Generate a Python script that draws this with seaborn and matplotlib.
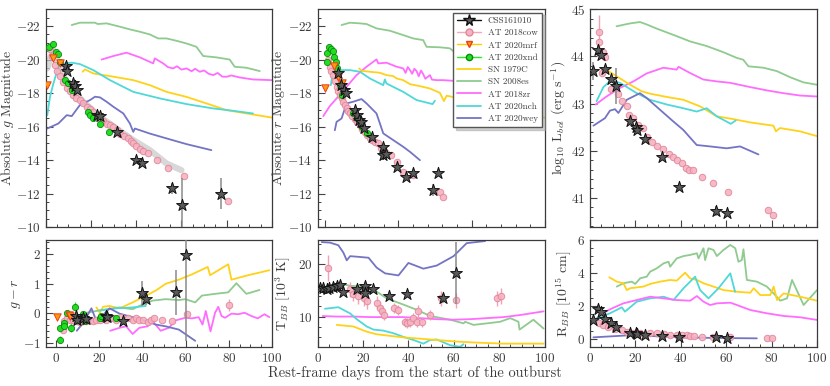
import numpy as np
import matplotlib
matplotlib.use('Agg')
import matplotlib.pyplot as plt
from matplotlib.lines import Line2D
from matplotlib.ticker import MultipleLocator, AutoMinorLocator
import seaborn as sns

sns.set_theme(style='ticks')
plt.rcParams['font.family'] = 'serif'
plt.rcParams['font.serif'] = ['cmr10', 'DejaVu Serif']
plt.rcParams['mathtext.fontset'] = 'cm'
plt.rcParams['axes.formatter.use_mathtext'] = True

# ---------------- data ----------------
# CSS161010
css_g_day = [9.0, 9.6, 12.0, 12.8, 14.0, 22.8, 23.8, 31.3, 39.9, 42.4, 55.6, 60.1, 77.6]
css_g_mag = [-19.6, -19.3, -18.6, -18.4, -18.2, -16.7, -16.6, -15.7, -14.0, -13.8, -12.3, -11.3, -12.0]
css_g_err = [0.1, 0.1, 0.1, 0.1, 0.1, 0.1, 0.1, 0.1, 0.1, 0.1, 0.35, 1.6, 0.95]
css_r_day = [9.1, 10.7, 13.0, 14.3, 20.5, 21.6, 23.4, 24.5, 26.6, 31.8, 39.8, 39.8, 42.0, 49.5, 55.2, 60.2, 73.9, 76.8]
css_r_mag = [-19.2, -18.5, -18.2, -18.0, -17.0, -16.7, -16.4, -16.25, -15.9, -15.4, -14.8, -14.3, -14.35, -13.6, -13.0, -13.2, -12.2, -13.2]
css_r_err = [0.1, 0.1, 0.1, 0.1, 0.1, 0.1, 0.1, 0.1, 0.1, 0.1, 0.1, 0.3, 0.1, 0.15, 0.15, 0.15, 0.35, 0.15]
css_L_day = [1.5, 3.7, 4.7, 6.6, 9.1, 11.5, 17.6, 20.3, 20.9, 24.2, 31.6, 39.4, 55.5, 60.2]
css_L_val = [43.69, 44.13, 44.02, 43.74, 43.52, 43.38, 42.62, 42.51, 42.44, 42.24, 41.86, 41.23, 40.72, 40.68]
css_L_err = [0.2, 0.12, 0.08, 0.05, 0.05, 0.38, 0.05, 0.08, 0.08, 0.05, 0.05, 0.05, 0.1, 0.05]
css_gr_day = [9.2, 9.8, 12.5, 13.7, 22.9, 23.5, 31.1, 39.7, 41.5, 55.3, 60.2]
css_gr_val = [-0.09, -0.24, -0.17, -0.2, -0.09, -0.13, -0.26, 0.68, 0.48, 0.71, 1.98]
css_gr_err = [0.15, 0.15, 0.12, 0.12, 0.12, 0.12, 0.15, 0.43, 0.2, 0.75, 2.9]
css_T_day = [1.0, 2.5, 4.0, 5.1, 6.9, 8.4, 9.9, 11.3, 17.5, 20.9, 20.9, 24.6, 31.6, 39.3, 55.4, 61.0]
css_T_val = [15.5, 15.5, 15.3, 15.5, 15.7, 15.8, 16.1, 14.8, 15.3, 15.8, 14.6, 15.2, 13.9, 14.4, 13.5, 18.4]
css_T_err = [0.5, 0.5, 0.5, 0.5, 0.5, 0.5, 0.5, 0.5, 0.5, 0.5, 0.5, 0.5, 0.5, 0.5, 0.8, 6.0]
css_R_day = [1.2, 3.7, 4.7, 6.6, 9.1, 11.5, 17.6, 20.3, 20.9, 24.3, 31.6, 39.4, 55.6, 60.3]
css_R_val = [1.15, 1.79, 1.65, 1.19, 0.94, 0.7, 0.38, 0.34, 0.3, 0.24, 0.18, 0.1, 0.1, 0.04]

# AT 2018cow
cow_g_day = [2.0, 3.0, 4.1, 5.2, 6.3, 7.8, 9.3, 10.8, 12.2, 13.6, 15.1, 16.6, 18.1, 19.5, 21.0, 22.5, 24.0,
             25.5, 26.9, 28.4, 29.9, 31.3, 32.8, 34.6, 36.5, 37.6, 38.7, 40.1, 41.6, 43.1, 45.3, 49.3, 54.1, 61.0, 80.7]
cow_g_mag = [-20.6, -20.2, -19.7, -19.3, -19.0, -18.65, -18.33, -18.1, -17.87, -17.72, -17.58, -17.38, -17.18, -17.03,
             -16.88, -16.68, -16.48, -16.33, -16.18, -16.08, -15.98, -15.78, -15.58, -15.43, -15.29, -15.15, -15.03,
             -14.83, -14.63, -14.55, -14.43, -14.03, -13.53, -13.03, -11.54]
cow_r_day = [2.3, 3.4, 4.5, 5.7, 6.8, 8.0, 9.1, 10.2, 11.4, 12.5, 13.7, 14.8, 16.0, 17.0, 18.8, 20.5, 22.2, 23.9,
             25.6, 27.3, 29.0, 30.7, 32.4, 34.1, 36.4, 38.6, 42.0, 44.8, 48.9, 53.4, 60.2, 78.4, 80.7]
cow_r_mag = [-19.97, -19.57, -19.3, -19.07, -18.7, -18.37, -18.1, -17.88, -17.68, -17.48, -17.28, -17.08, -16.93,
             -16.78, -16.6, -16.42, -16.25, -16.08, -15.88, -15.68, -15.48, -15.29, -15.19, -15.09, -14.99, -14.69,
             -14.43, -14.29, -13.89, -13.29, -13.1, -12.1, -11.8]
cow_L_day = [4.1, 4.1, 5.9, 6.6, 5.1, 9.1, 12.5, 13.9, 16.2, 17.3, 19.1, 21.3, 23.2, 25.0, 27.2, 29.4, 32.3, 34.9,
             36.7, 38.2, 40.4, 42.3, 43.8, 45.2, 49.2, 54.3, 60.9, 78.6, 80.5]
cow_L_val = [44.52, 44.3, 44.09, 43.99, 43.65, 43.31, 43.2, 43.05, 42.94, 42.76, 42.69, 42.55, 42.48, 42.3, 42.19,
             42.1, 42.03, 41.93, 41.87, 41.8, 41.73, 41.63, 41.59, 41.58, 41.45, 41.32, 41.13, 40.74, 40.63]
cow_gr_day = [3.0, 3.4, 4.9, 6.4, 7.9, 9.5, 11.0, 12.5, 14.0, 15.6, 17.1, 18.6, 20.2, 21.7, 23.2, 24.7, 26.3, 27.8,
              30.1, 33.1, 35.4, 36.9, 38.5, 40.0, 42.3, 43.8, 45.3, 48.9, 53.7, 60.8, 80.0]
cow_gr_val = [-0.55, -0.26, -0.15, -0.21, -0.24, -0.26, -0.29, -0.26, -0.26, -0.24, -0.26, -0.21, -0.24, -0.17,
              -0.21, -0.17, -0.17, -0.21, -0.13, -0.17, -0.21, -0.17, -0.24, -0.21, -0.29, -0.24, -0.17, -0.21,
              -0.26, -0.01, 0.29]
cow_T_day = [4.7, 14.3, 15.7, 17.9, 20.4, 21.6, 26.3, 27.5, 28.2, 29.3, 33.7, 35.6, 38.5, 39.3, 40.7, 42.2, 43.7,
             44.4, 45.9, 49.3, 54.3, 61.0, 79.0, 80.7]
cow_T_val = [19.4, 15.2, 14.4, 13.9, 13.5, 12.9, 12.7, 11.6, 11.0, 10.3, 11.6, 11.3, 9.0, 8.8, 9.0, 9.7, 9.0, 11.0,
             9.0, 10.3, 13.5, 13.1, 13.5, 14.0]
cow_T_err = [2.5, 1.5, 1.5, 1.5, 1.5, 1.5, 1.2, 1.2, 1.2, 1.0, 1.0, 1.0, 1.0, 1.0, 1.0, 1.0, 1.0, 1.2, 1.0, 1.0,
             1.5, 1.5, 1.5, 1.5]
cow_R_day = [4.1, 5.9, 8.1, 11.0, 14.0, 16.2, 19.1, 22.0, 26.5, 29.4, 32.4, 35.3, 38.2, 40.4, 42.6, 44.1, 45.6,
             49.3, 54.4, 61.8, 77.9, 80.1]
cow_R_val = [0.98, 0.84, 0.74, 0.62, 0.54, 0.44, 0.38, 0.38, 0.34, 0.34, 0.3, 0.26, 0.24, 0.26, 0.24, 0.18, 0.18,
             0.14, 0.1, 0.1, 0.04, 0.04]
cow_g_band_day = [0.7, 1.9, 3.4, 9.3, 16.6, 24.0, 31.3, 38.7, 46.0, 53.4, 60.0]
cow_g_band_mag = [-19.47, -20.07, -20.57, -18.57, -17.48, -16.58, -15.88, -15.19, -14.59, -13.79, -13.39]

# AT 2020mrf
mrf_g_day = [0.4, 3.3, 6.3]
mrf_g_mag = [-18.47, -20.07, -19.77]
mrf_r_day = [0.0, 6.1, 9.1, 11.4]
mrf_r_mag = [-18.31, -19.61, -18.93, -18.61]
mrf_gr_day = [0.3, 5.8, 6.5]
mrf_gr_val = [-0.12, -0.05, -0.1]

# AT 2020xnd
xnd_g_day = [1.6, 3.4, 4.6, 5.6, 6.3, 8.5, 10.0, 11.5, 18.8, 19.6, 20.7, 24.0, 28.1]
xnd_g_mag = [-20.76, -20.92, -20.47, -20.33, -19.87, -18.77, -18.57, -18.17, -16.88, -16.68, -16.48, -16.18, -15.68]
xnd_r_day = [1.6, 1.6, 3.0, 4.5, 5.7, 6.1, 7.5, 8.0, 9.1, 10.2, 11.4, 19.3, 21.6, 25.0, 28.4]
xnd_r_mag = [-19.87, -20.37, -20.76, -20.61, -20.53, -20.17, -19.87, -19.47, -19.07, -18.47, -17.88, -16.78,
             -16.48, -15.98, -15.59]
xnd_gr_day = [1.8, 1.8, 3.4, 3.7, 4.9, 6.7, 8.7, 9.8, 12.5, 13.3, 20.2, 20.9, 23.2, 27.8]
xnd_gr_val = [-0.9, -0.49, -0.32, -0.44, 0.02, -0.49, 0.22, -0.15, -0.01, -0.26, -0.17, -0.09, -0.13, -0.17]
xnd_gr_err = [0.12, 0.05, 0.05, 0.05, 0.05, 0.15, 0.15, 0.05, 0.05, 0.05, 0.05, 0.05, 0.05, 0.05]

# SN 1979C
c79_g_day = [16.3, 17.4, 21.0, 28.4, 38.7, 46.0, 53.4, 62.2, 71.0, 79.9, 88.7, 99.7, 101.0]
c79_g_mag = [-19.27, -19.41, -19.17, -19.01, -18.77, -18.47, -18.07, -17.77, -17.38, -16.98, -16.78, -16.54, -16.52]
c79_r_day = [23.4, 25.0, 30.7, 37.5, 42.0, 46.6, 48.9, 53.4, 58.0, 64.8, 71.6, 78.4, 81.1, 83.0, 89.8, 94.3, 120.0, 151.0]
c79_r_mag = [-19.47, -19.33, -19.27, -19.21, -19.07, -19.01, -18.87, -18.77, -18.53, -18.41, -18.27, -18.01,
             -17.52, -17.84, -17.72, -17.62, -17.1, -16.5]
c79_L_day = [8.1, 11.7, 17.6, 22.8, 26.4, 33.8, 41.1, 48.5, 55.8, 63.1, 70.5, 77.8, 80.8, 81.9, 83.7, 92.5, 99.9]
c79_L_val = [43.69, 43.58, 43.4, 43.26, 43.21, 43.14, 43.08, 42.94, 42.73, 42.67, 42.6, 42.55, 42.53, 42.41, 42.48,
             42.41, 42.31]
c79_gr_day = [18.6, 20.2, 21.7, 24.7, 29.3, 35.4, 40.0, 46.1, 50.7, 56.8, 62.9, 70.2, 71.3, 79.7, 81.2, 88.9, 98.8]
c79_gr_val = [0.2, 0.02, 0.22, 0.25, 0.17, 0.37, 0.54, 0.77, 1.0, 1.14, 1.32, 1.57, 1.29, 1.66, 1.14, 1.29, 1.46]
c79_T_day = [8.4, 15.7, 21.6, 26.0, 31.9, 37.8, 43.7, 52.5, 61.3, 70.1, 81.9, 99.6]
c79_T_val = [8.4, 8.1, 7.1, 6.6, 6.3, 6.0, 5.8, 5.5, 5.2, 5.0, 4.8, 4.8]
c79_R_day = [8.5, 11.8, 14.7, 16.2, 17.6, 23.5, 26.5, 30.9, 35.3, 38.2, 41.9, 44.1, 47.1, 50.0, 54.4, 58.8, 64.7,
             70.6, 72.1, 75.0, 79.4, 80.9, 82.4, 85.3, 92.6, 100.0]
c79_R_val = [3.72, 3.46, 3.36, 2.95, 3.06, 3.16, 3.32, 3.46, 3.56, 3.52, 4.0, 3.66, 3.56, 3.36, 3.16, 2.95, 2.85,
             2.79, 3.06, 2.65, 2.65, 3.16, 2.35, 2.75, 2.55, 2.31]

# SN 2008es
es_g_day = [11.5, 15.1, 21.8, 23.0, 26.9, 32.8, 37.2, 41.6, 46.0, 49.7, 53.4, 57.8, 62.2, 66.6, 69.6, 75.4, 81.3,
            83.5, 88.7, 94.6]
es_g_mag = [-22.06, -22.2, -22.2, -22.12, -22.16, -21.96, -21.8, -21.66, -21.5, -21.26, -21.26, -21.12, -20.96,
            -20.76, -20.21, -20.13, -20.0, -19.57, -19.51, -19.31]
es_r_day = [11.4, 17.0, 23.9, 28.4, 35.2, 44.3, 53.4, 60.2, 67.0, 69.3, 78.4, 85.2, 92.0, 94.3, 110.0, 130.0]
es_r_mag = [-22.06, -22.2, -22.16, -22.12, -21.86, -21.72, -21.46, -21.26, -21.16, -20.76, -20.73, -20.67, -20.17,
            -20.07, -19.7, -19.2]
es_L_day = [11.7, 17.6, 22.0, 24.9, 29.4, 38.2, 44.0, 51.4, 58.7, 64.6, 67.5, 69.8, 76.4, 82.2, 88.1, 94.0, 99.9]
es_L_val = [44.64, 44.7, 44.73, 44.68, 44.59, 44.43, 44.32, 44.22, 44.09, 43.97, 43.93, 43.79, 43.76, 43.69, 43.56,
            43.45, 43.4]
es_gr_day = [14.0, 20.2, 29.3, 35.4, 38.5, 44.6, 50.7, 56.8, 59.8, 64.4, 67.5, 73.6, 79.7, 83.5, 88.1, 94.2]
es_gr_val = [0.02, 0.1, 0.2, 0.14, 0.25, 0.43, 0.48, 0.45, 0.48, 0.37, 0.6, 0.66, 0.71, 1.02, 0.66, 0.79]
es_T_day = [8.4, 14.3, 20.1, 26.0, 30.4, 37.8, 43.7, 49.6, 58.4, 64.3, 65.0, 68.7, 74.6, 80.4, 84.9, 88.5, 89.0,
            95.1, 99.6]
es_T_val = [16.5, 15.9, 15.8, 14.8, 13.5, 12.3, 11.3, 10.1, 9.4, 8.7, 9.0, 8.4, 8.7, 9.0, 9.7, 9.0, 7.5, 9.4, 7.7]
es_R_day = [11.8, 14.7, 18.4, 19.9, 22.1, 25.0, 26.5, 29.4, 32.4, 34.6, 35.3, 38.2, 41.2, 44.1, 47.1, 47.8, 50.0,
            50.7, 52.2, 54.4, 55.9, 58.8, 61.8, 64.0, 65.4, 66.9, 67.6, 69.1, 73.5, 77.9, 80.9, 83.8, 86.8, 89.0,
            94.1, 100.0]
es_R_val = [3.16, 3.36, 3.46, 3.32, 3.66, 3.76, 4.06, 4.26, 4.56, 4.66, 4.36, 4.86, 5.0, 5.07, 5.17, 4.86, 5.47,
            4.76, 5.47, 5.37, 5.0, 5.37, 5.67, 5.47, 4.66, 4.76, 5.41, 3.56, 3.46, 3.16, 2.75, 2.31, 2.45, 3.56,
            2.05, 2.95]

# AT 2018zr
zr_g_day = [24.7, 29.9, 35.7, 41.6, 47.5, 48.2, 51.9, 54.0, 56.3, 58.0, 60.0, 62.2, 64.5, 66.0, 68.1, 70.0, 72.0,
            74.0, 76.0, 78.0, 79.9, 82.0, 85.7, 91.6, 99.7, 101.0]
zr_g_mag = [-20.0, -20.21, -20.41, -20.13, -19.77, -20.07, -19.77, -19.55, -19.47, -19.6, -19.4, -19.47, -19.3,
            -19.45, -19.27, -19.35, -19.15, -19.07, -19.2, -18.98, -18.97, -19.05, -18.93, -18.81, -18.77, -18.77]
zr_r_day = [-1.1, 3.4, 8.0, 14.8, 21.6, 28.4, 35.2, 36.4, 42.0, 48.9, 53.4, 55.0, 56.5, 58.0, 59.5, 61.0, 62.5,
            64.0, 65.5, 67.0, 68.5, 71.6, 73.0, 76.1, 80.7, 87.5, 93.2]
zr_r_mag = [-16.62, -17.22, -17.68, -18.37, -19.07, -19.57, -20.01, -19.77, -19.81, -19.57, -19.47, -19.2, -19.55,
            -19.37, -19.15, -19.45, -19.31, -19.0, -19.35, -19.13, -18.85, -19.07, -18.8, -18.77, -18.77, -18.73, -18.87]
zr_L_day = [2.5, 7.3, 13.2, 19.1, 25.0, 32.3, 38.2, 39.0, 44.0, 49.9, 55.8, 61.7, 70.5, 77.8, 85.2, 92.5, 99.9]
zr_L_val = [42.98, 43.15, 43.33, 43.47, 43.64, 43.76, 43.72, 43.78, 43.65, 43.51, 43.47, 43.44, 43.35, 43.28, 43.22,
            43.17, 43.15]
zr_gr_day = [25.0, 29.3, 32.4, 35.4, 38.5, 42.3, 44.6, 48.4, 52.2, 55.3, 59.8, 62.9, 66.0, 67.8, 69.3, 71.5, 73.6,
             75.1, 76.6, 78.2, 81.2, 84.3, 87.3, 90.4, 93.4, 96.5, 98.8]
zr_gr_val = [-0.59, -0.49, -0.44, -0.7, -0.49, -0.44, -0.26, -0.59, -0.49, -0.24, -0.15, -0.17, -0.13, -0.38, 0.08,
             -0.61, 0.02, 0.22, -0.09, -0.15, -0.01, -0.03, 0.02, -0.09, -0.17, -0.03, -0.13]
zr_T_day = [2.2, 8.4, 15.7, 23.1, 30.4, 37.8, 45.1, 52.5, 59.9, 67.2, 74.6, 82.0, 89.3, 99.6]
zr_T_val = [10.1, 10.0, 10.0, 9.9, 9.9, 9.9, 9.7, 9.5, 9.4, 9.5, 9.7, 9.9, 10.3, 11.0]
zr_R_day = [4.1, 8.8, 14.7, 20.6, 26.5, 32.4, 38.2, 44.1, 47.1, 50.0, 52.9, 55.9, 61.8, 64.7, 70.6, 77.9, 85.3,
            92.6, 100.0]
zr_R_val = [1.45, 1.79, 2.15, 2.35, 2.55, 2.45, 2.35, 2.31, 2.59, 2.25, 2.05, 2.15, 2.19, 2.05, 1.75, 1.55, 1.39,
            1.31, 1.15]

# AT 2020nch
nch_g_day = [0.7, 1.9, 3.4, 5.6, 8.5, 11.5, 15.1, 21.0, 28.4, 38.7, 50.4, 62.2, 74.0, 82.8, 91.6]
nch_g_mag = [-16.68, -17.78, -18.57, -19.57, -19.77, -19.81, -19.73, -19.37, -18.77, -18.07, -17.68, -17.34,
             -17.08, -16.94, -16.78]
nch_r_day = [4.1, 5.7, 8.0, 17.0, 23.9, 30.7, 39.8, 40.9, 42.0, 53.4, 62.5, 73.4, 75.0]
nch_r_mag = [-18.47, -19.41, -19.37, -19.37, -19.27, -18.87, -18.47, -18.81, -18.57, -18.07, -17.58, -17.34, -17.54]
nch_L_day = [2.9, 5.9, 8.8, 13.2, 20.6, 26.4, 33.8, 41.1, 47.0, 51.4, 55.8, 62.0, 64.2]
nch_L_val = [43.05, 43.35, 43.47, 43.44, 43.22, 43.08, 42.98, 42.9, 42.83, 42.9, 42.73, 42.57, 42.64]
nch_gr_day = [20.2, 27.8, 35.4, 41.5]
nch_gr_val = [0.1, 0.17, 0.2, 0.25]
nch_T_day = [3.2, 9.1, 14.3, 17.2, 21.6, 24.6, 29.0, 33.4, 37.8, 42.2, 46.6, 49.6, 52.5, 58.4, 62.8, 64.3]
nch_T_val = [11.5, 11.8, 10.6, 9.5, 8.1, 7.5, 7.3, 6.8, 6.1, 5.5, 4.8, 5.5, 5.6, 4.5, 4.2, 4.7]
nch_R_day = [2.9, 8.8, 14.0, 15.4, 20.6, 26.5, 32.4, 36.8, 41.2, 46.3, 48.5, 52.2, 56.6, 61.8, 63.9]
nch_R_val = [1.25, 1.55, 1.91, 1.65, 2.25, 2.45, 2.55, 2.35, 3.06, 3.76, 2.95, 2.45, 3.06, 3.96, 2.85]

# AT 2020wey
wey_g_day = [0.7, 5.6, 9.3, 11.5, 15.1, 19.6, 21.8, 24.0, 26.9, 29.9, 34.3, 37.2, 38.7, 39.4, 46.0, 53.4, 62.2, 73.2]
wey_g_mag = [-15.88, -16.18, -16.68, -16.62, -17.28, -17.58, -17.78, -17.74, -17.48, -17.18, -16.78, -16.18, -15.68,
             -15.88, -15.58, -15.29, -14.95, -14.59]
wey_r_day = [6.8, 8.0, 11.4, 14.8, 19.3, 25.0, 28.4, 35.2, 39.8, 46.6, 53.4, 58.0, 64.8]
wey_r_mag = [-15.78, -16.28, -16.48, -17.38, -17.48, -17.64, -17.38, -16.78, -15.59, -15.19, -14.79, -14.49, -13.99]
wey_L_day = [1.5, 6.6, 8.8, 11.0, 12.5, 16.2, 22.0, 24.9, 30.8, 36.7, 41.1, 47.0, 52.9, 60.2, 66.1, 74.2]
wey_L_val = [42.53, 42.69, 42.85, 42.88, 42.8, 43.08, 43.22, 43.12, 42.87, 42.62, 42.44, 42.12, 42.09, 42.05, 42.09,
             41.92]
wey_gr_day = [9.5, 12.5, 16.3, 18.6, 20.2, 24.7, 29.3, 35.4, 41.5, 46.1, 50.7, 56.8, 64.4]
wey_gr_val = [-0.59, -0.32, 0.17, -0.26, -0.17, 0.17, -0.01, -0.13, -0.26, -0.38, -0.44, -0.55, -0.93]
wey_T_day = [1.8, 5.4, 9.1, 11.3, 12.8, 14.3, 17.2, 22.4, 26.0, 29.7, 35.6, 40.0, 46.6, 52.5, 59.9, 65.7, 73.8]
wey_T_val = [24.3, 24.2, 23.7, 22.3, 20.8, 21.6, 21.5, 21.3, 19.4, 18.3, 17.9, 20.3, 19.2, 19.8, 21.6, 24.1, 24.5]
wey_R_day = [1.5, 11.8, 19.1, 26.5, 33.8, 41.2, 48.5, 55.9, 73.5]
wey_R_val = [0.1, 0.18, 0.24, 0.18, 0.14, 0.1, 0.08, 0.06, 0.04]

legend_labels = ['CSS161010', 'AT 2018cow', 'AT 2020mrf', 'AT 2020xnd', 'SN 1979C', 'SN 2008es',
                 'AT 2018zr', 'AT 2020nch', 'AT 2020wey']

# ---------------- styles ----------------
C_CSS_FACE, C_CSS_EDGE = '#5a5a5a', '#111111'
C_COW_FACE, C_COW_EDGE, C_COW_LINE = '#f5b3c1', '#e3869c', '#f7a8b8'
C_MRF_FACE, C_MRF_EDGE, C_MRF_LINE = '#ff9a10', '#e8401a', '#ffcc00'
C_XND_FACE, C_XND_EDGE, C_XND_LINE = '#22dd22', '#0a8a0a', '#22ee22'
C_79C = '#ffd21a'
C_08ES = '#8fca8f'
C_18ZR = '#ff6cff'
C_NCH = '#4fd8d8'
C_WEY = '#7474c4'
TXT = '#3c3c3c'


def line(ax, x, y, color):
    sns.lineplot(x=x, y=y, ax=ax, color=color, lw=1.3, estimator=None, sort=False,
                 legend=False, zorder=2)


def css(ax, x, y, err=None):
    if err is not None:
        ax.errorbar(x, y, yerr=err, fmt='none', ecolor='#8a8a8a', elinewidth=1.1, zorder=5)
    sns.scatterplot(x=x, y=y, ax=ax, marker='*', s=80, color=C_CSS_FACE, edgecolor=C_CSS_EDGE,
                    linewidth=0.7, legend=False, zorder=6)


def cow(ax, x, y, err=None):
    if err is not None:
        ax.errorbar(x, y, yerr=err, fmt='none', ecolor='#f2a3b3', elinewidth=1.0, zorder=3)
    sns.scatterplot(x=x, y=y, ax=ax, marker='o', s=22, color=C_COW_FACE, edgecolor=C_COW_EDGE,
                    linewidth=0.7, legend=False, zorder=4, alpha=0.9)


def mrf(ax, x, y):
    sns.scatterplot(x=x, y=y, ax=ax, marker='v', s=28, color=C_MRF_FACE, edgecolor=C_MRF_EDGE,
                    linewidth=0.7, legend=False, zorder=4)


def xnd(ax, x, y):
    sns.scatterplot(x=x, y=y, ax=ax, marker='o', s=20, color=C_XND_FACE, edgecolor=C_XND_EDGE,
                    linewidth=0.6, legend=False, zorder=4)


def style(ax, xmaj, ymaj, xlim, ylim, labelx, ylabel, ylab_x):
    ax.set_xlim(*xlim)
    ax.set_ylim(*ylim)
    ax.xaxis.set_major_locator(MultipleLocator(xmaj))
    ax.yaxis.set_major_locator(MultipleLocator(ymaj))
    ax.xaxis.set_minor_locator(AutoMinorLocator())
    ax.yaxis.set_minor_locator(AutoMinorLocator())
    ax.tick_params(which='both', direction='in', colors='#444444', labelcolor=TXT,
                   labelsize=9.5, top=False, right=False)
    ax.tick_params(which='major', length=5, width=0.8)
    ax.tick_params(which='minor', length=2.5, width=0.7)
    if not labelx:
        ax.tick_params(labelbottom=False)
    for sp in ax.spines.values():
        sp.set_color('#3a3a3a')
        sp.set_linewidth(0.9)
    ax.set_xlabel('')
    ax.set_ylabel(ylabel, color=TXT, fontsize=10)
    # label anchor is the right-hand (bottom) side of the rotated text
    ax.yaxis.set_label_coords(ylab_x, 0.5)


fig = plt.figure(figsize=(8.3, 3.86), dpi=100)
W, H = 830.0, 386.0


def box(x0, x1, y0, y1):
    return fig.add_axes([x0 / W, 1 - y1 / H, (x1 - x0) / W, (y1 - y0) / H])


ax_g = box(45.7, 272, 9.3, 227)
ax_r = box(317.5, 545, 9.3, 227)
ax_L = box(590, 817, 9.3, 227)
ax_gr = box(45.5, 272, 239.5, 347.3)
ax_T = box(317.7, 544.5, 239.5, 347.3)
ax_R = box(590, 817, 239.5, 347.3)

# --- absolute g
ax = ax_g
sns.lineplot(x=cow_g_band_day, y=cow_g_band_mag, ax=ax, color='#c8c8c8', lw=4.5, alpha=0.7,
             estimator=None, sort=False, legend=False, zorder=1)
line(ax, es_g_day, es_g_mag, C_08ES)
line(ax, zr_g_day, zr_g_mag, C_18ZR)
line(ax, c79_g_day, c79_g_mag, C_79C)
line(ax, nch_g_day, nch_g_mag, C_NCH)
line(ax, wey_g_day, wey_g_mag, C_WEY)
cow(ax, cow_g_day, cow_g_mag)
xnd(ax, xnd_g_day, xnd_g_mag)
mrf(ax, mrf_g_day, mrf_g_mag)
css(ax, css_g_day, css_g_mag, css_g_err)
style(ax, 20, 2, (0, 100), (-10, -23), False, 'Absolute $g$ Magnitude', -0.131)

# --- absolute r
ax = ax_r
line(ax, es_r_day, es_r_mag, C_08ES)
line(ax, zr_r_day, zr_r_mag, C_18ZR)
line(ax, c79_r_day, c79_r_mag, C_79C)
line(ax, nch_r_day, nch_r_mag, C_NCH)
line(ax, wey_r_day, wey_r_mag, C_WEY)
cow(ax, cow_r_day, cow_r_mag)
xnd(ax, xnd_r_day, xnd_r_mag)
mrf(ax, mrf_r_day, mrf_r_mag)
css(ax, css_r_day, css_r_mag, css_r_err)
style(ax, 50, 2, (-5, 150), (-10, -23), False, 'Absolute $r$ Magnitude', -0.134)

# --- bolometric luminosity
ax = ax_L
line(ax, es_L_day, es_L_val, C_08ES)
line(ax, zr_L_day, zr_L_val, C_18ZR)
line(ax, c79_L_day, c79_L_val, C_79C)
line(ax, nch_L_day, nch_L_val, C_NCH)
line(ax, wey_L_day, wey_L_val, C_WEY)
cow_L_err = [0.35] + [0.0] * (len(cow_L_val) - 1)
cow(ax, cow_L_day, cow_L_val, cow_L_err)
css(ax, css_L_day, css_L_val, css_L_err)
style(ax, 20, 1, (0, 100), (40.38, 45), False, r'log$_{10}$ L$_{bol}$ (erg s$^{-1}$)', -0.097)

# --- g - r colour
ax = ax_gr
line(ax, c79_gr_day, c79_gr_val, C_79C)
line(ax, es_gr_day, es_gr_val, C_08ES)
line(ax, zr_gr_day, zr_gr_val, C_18ZR)
line(ax, nch_gr_day, nch_gr_val, C_NCH)
line(ax, wey_gr_day, wey_gr_val, C_WEY)
cow_gr_err = [0.0] * (len(cow_gr_val) - 1) + [0.2]
cow(ax, cow_gr_day, cow_gr_val, cow_gr_err)
ax.errorbar(xnd_gr_day, xnd_gr_val, yerr=xnd_gr_err, fmt='none', ecolor=C_XND_FACE, elinewidth=1.0, zorder=3)
xnd(ax, xnd_gr_day, xnd_gr_val)
mrf(ax, mrf_gr_day, mrf_gr_val)
css(ax, css_gr_day, css_gr_val, css_gr_err)
style(ax, 20, 1, (-5, 100), (-1.15, 2.5), True, '$g-r$', -0.099)

# --- blackbody temperature
ax = ax_T
line(ax, wey_T_day, wey_T_val, C_WEY)
line(ax, es_T_day, es_T_val, C_08ES)
line(ax, zr_T_day, zr_T_val, C_18ZR)
line(ax, nch_T_day, nch_T_val, C_NCH)
line(ax, c79_T_day, c79_T_val, C_79C)
cow(ax, cow_T_day, cow_T_val, cow_T_err)
css(ax, css_T_day, css_T_val, css_T_err)
style(ax, 20, 10, (0, 100), (4.1, 24.8), True, r'T$_{BB}$ [10$^3$ K]', -0.109)

# --- blackbody radius
ax = ax_R
line(ax, es_R_day, es_R_val, C_08ES)
line(ax, c79_R_day, c79_R_val, C_79C)
line(ax, nch_R_day, nch_R_val, C_NCH)
line(ax, zr_R_day, zr_R_val, C_18ZR)
line(ax, wey_R_day, wey_R_val, C_WEY)
cow(ax, cow_R_day, cow_R_val)
css(ax, css_R_day, css_R_val)
style(ax, 20, 2, (0, 100), (-0.5, 6), True, r'R$_{BB}$ [10$^{15}$ cm]', -0.075)

# legend
handles = [
    Line2D([], [], color='#111111', marker='*', markersize=8.5, markerfacecolor=C_CSS_FACE,
           markeredgecolor=C_CSS_EDGE, lw=1.0),
    Line2D([], [], color=C_COW_LINE, marker='o', markersize=5, markerfacecolor=C_COW_FACE,
           markeredgecolor=C_COW_EDGE, lw=1.0),
    Line2D([], [], color=C_MRF_LINE, marker='v', markersize=5, markerfacecolor=C_MRF_FACE,
           markeredgecolor=C_MRF_EDGE, lw=1.0),
    Line2D([], [], color=C_XND_LINE, marker='o', markersize=4.5, markerfacecolor=C_XND_FACE,
           markeredgecolor=C_XND_EDGE, lw=1.0),
    Line2D([], [], color=C_79C, lw=1.3),
    Line2D([], [], color=C_08ES, lw=1.3),
    Line2D([], [], color=C_18ZR, lw=1.3),
    Line2D([], [], color=C_NCH, lw=1.3),
    Line2D([], [], color=C_WEY, lw=1.3),
]
leg = ax_r.legend(handles, legend_labels, loc='upper right', fontsize=6.6, frameon=True, fancybox=False,
                  shadow={'color': '#9a9a9a', 'alpha': 0.45}, framealpha=1, edgecolor='#555555',
                  handlelength=2.6, labelspacing=0.42, borderpad=0.45, handletextpad=0.7,
                  borderaxespad=0.35)
for t in leg.get_texts():
    t.set_color(TXT)

fig.text(0.5, 0.034, 'Rest-frame days from the start of the outburst', ha='center', va='center',
         fontsize=10.4, color=TXT)

fig.savefig('out.png', dpi=100)
